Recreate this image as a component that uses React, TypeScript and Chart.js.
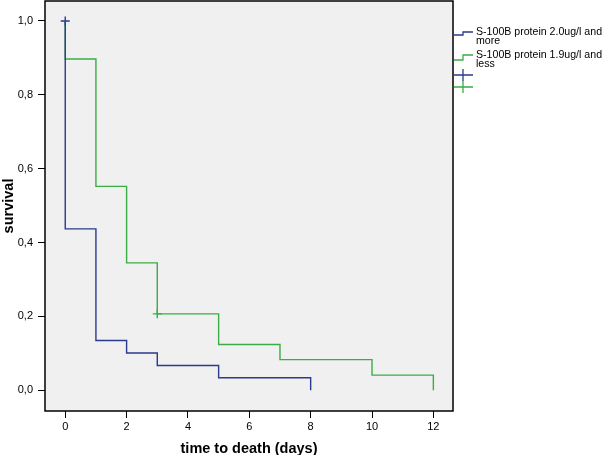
import React, { useEffect, useRef } from "react";
import { Chart, registerables } from "chart.js";

Chart.register(...registerables);

// Kaplan-Meier step data (time in days, cumulative survival)
const highTimes = [0, 0, 1, 2, 3, 5, 8];
const highSurv = [1.0, 0.437, 0.135, 0.101, 0.067, 0.034, 0.0];
const lowTimes = [0, 0, 1, 2, 3, 5, 7, 10, 12];
const lowSurv = [1.0, 0.897, 0.552, 0.345, 0.207, 0.124, 0.083, 0.041, 0.0];
// censored observations
const highCensorTimes = [0];
const highCensorSurv = [1.0];
const lowCensorTimes = [3];
const lowCensorSurv = [0.207];

const xTicks = [0, 2, 4, 6, 8, 10, 12];
const yTicks = [0, 0.2, 0.4, 0.6, 0.8, 1.0];

const legendLabels = [
  ["S-100B protein 2.0ug/l and", "more"],
  ["S-100B protein 1.9ug/l and", "less"],
];

const BLUE = "#2a3a8c";
const GREEN = "#3aad44";
const FONT = "'Liberation Sans', Arial, Helvetica, sans-serif";

const toPts = (xs: number[], ys: number[]) => xs.map((x, i) => ({ x, y: ys[i] }));

const framePlugin = {
  id: "frame",
  beforeDraw(chart: any) {
    const { ctx, chartArea: a } = chart;
    ctx.save();
    ctx.fillStyle = "#ffffff";
    ctx.fillRect(0, 0, chart.width, chart.height);
    ctx.fillStyle = "#f0f0f0";
    ctx.fillRect(a.left, a.top, a.right - a.left, a.bottom - a.top);
    ctx.restore();
  },
  afterDraw(chart: any) {
    const { ctx, chartArea: a } = chart;
    ctx.save();
    ctx.strokeStyle = "#000000";
    ctx.lineWidth = 1.5;
    ctx.strokeRect(a.left, a.top, a.right - a.left, a.bottom - a.top);

    // custom legend
    const lx = a.right + 1;
    ctx.lineWidth = 1.3;
    ctx.strokeStyle = BLUE;
    ctx.beginPath();
    ctx.moveTo(lx, 35);
    ctx.lineTo(lx + 9, 35);
    ctx.lineTo(lx + 9, 32);
    ctx.lineTo(lx + 19, 32);
    ctx.stroke();
    ctx.strokeStyle = GREEN;
    ctx.beginPath();
    ctx.moveTo(lx, 60);
    ctx.lineTo(lx + 9, 60);
    ctx.lineTo(lx + 9, 55);
    ctx.lineTo(lx + 19, 55);
    ctx.stroke();
    ctx.strokeStyle = BLUE;
    ctx.beginPath();
    ctx.moveTo(lx, 75);
    ctx.lineTo(lx + 19, 75);
    ctx.moveTo(lx + 9, 69);
    ctx.lineTo(lx + 9, 81);
    ctx.stroke();
    ctx.strokeStyle = GREEN;
    ctx.beginPath();
    ctx.moveTo(lx, 87);
    ctx.lineTo(lx + 19, 87);
    ctx.moveTo(lx + 9, 81);
    ctx.lineTo(lx + 9, 93);
    ctx.stroke();

    ctx.fillStyle = "#000000";
    ctx.font = `10.6px ${FONT}`;
    ctx.textBaseline = "alphabetic";
    ctx.textAlign = "left";
    const tx = a.right + 23;
    ctx.fillText(legendLabels[0][0], tx, 34.5);
    ctx.fillText(legendLabels[0][1], tx, 43.5);
    ctx.fillText(legendLabels[1][0], tx, 57.5);
    ctx.fillText(legendLabels[1][1], tx, 66.5);
    ctx.restore();
  },
};

export default function App() {
  const ref = useRef<HTMLCanvasElement | null>(null);

  useEffect(() => {
    if (!ref.current) return;
    const chart = new Chart(ref.current, {
      type: "line",
      data: {
        datasets: [
          {
            label: legendLabels[0].join(" "),
            data: toPts(highTimes, highSurv),
            borderColor: BLUE,
            borderWidth: 1.4,
            stepped: "before",
            pointRadius: 0,
            fill: false,
          },
          {
            label: legendLabels[1].join(" "),
            data: toPts(lowTimes, lowSurv),
            borderColor: GREEN,
            borderWidth: 1.4,
            stepped: "before",
            pointRadius: 0,
            fill: false,
          },
          {
            label: "censored high",
            data: toPts(highCensorTimes, highCensorSurv),
            showLine: false,
            pointStyle: "cross",
            pointRadius: 4.5,
            borderColor: BLUE,
            pointBorderWidth: 1.4,
          },
          {
            label: "censored low",
            data: toPts(lowCensorTimes, lowCensorSurv),
            showLine: false,
            pointStyle: "cross",
            pointRadius: 4.5,
            borderColor: GREEN,
            pointBorderWidth: 1.4,
          },
        ],
      },
      options: {
        animation: false,
        responsive: false,
        maintainAspectRatio: false,
        layout: { autoPadding: false, padding: { left: 0, top: 1, right: 151, bottom: 0 } },
        plugins: {
          legend: { display: false },
          tooltip: { enabled: false },
        },
        scales: {
          x: {
            type: "linear",
            min: -0.66,
            max: 12.64,
            afterBuildTicks: (s: any) => {
              s.ticks = xTicks.map((v) => ({ value: v }));
            },
            afterFit: (s: any) => {
              s.height = 44;
              s.paddingLeft = 0;
              s.paddingRight = 0;
            },
            grid: {
              display: true,
              drawOnChartArea: false,
              drawTicks: true,
              tickLength: 7,
              color: "#000000",
              lineWidth: 1,
            },
            border: { display: false },
            ticks: {
              color: "#000000",
              font: { family: FONT, size: 11 },
              padding: 2,
              maxRotation: 0,
              callback: (v: any) => String(v),
            },
            title: {
              display: true,
              text: "time to death (days)",
              color: "#000000",
              font: { family: FONT, size: 14.5, weight: "bold" },
              padding: { top: -3, bottom: -3 },
            },
          },
          y: {
            type: "linear",
            min: -0.056,
            max: 1.054,
            afterBuildTicks: (s: any) => {
              s.ticks = yTicks.map((v) => ({ value: v }));
            },
            afterFit: (s: any) => {
              s.width = 45;
              s.paddingTop = 0;
              s.paddingBottom = 0;
            },
            grid: {
              display: true,
              drawOnChartArea: false,
              drawTicks: true,
              tickLength: 7,
              color: "#000000",
              lineWidth: 1,
            },
            border: { display: false },
            ticks: {
              color: "#000000",
              font: { family: FONT, size: 11 },
              padding: 5,
              callback: (v: any) => Number(v).toFixed(1).replace(".", ","),
            },
            title: {
              display: true,
              text: "survival",
              color: "#000000",
              font: { family: FONT, size: 14.5, weight: "bold" },
              padding: { top: 0, bottom: 0 },
            },
          },
        },
      },
      plugins: [framePlugin],
    } as any);
    return () => chart.destroy();
  }, []);

  return (
    <div style={{ position: "fixed", left: 0, top: 0, width: 604, height: 455, background: "#fff" }}>
      <canvas ref={ref} width={604} height={455} style={{ width: 604, height: 455, display: "block" }} />
    </div>
  );
}
